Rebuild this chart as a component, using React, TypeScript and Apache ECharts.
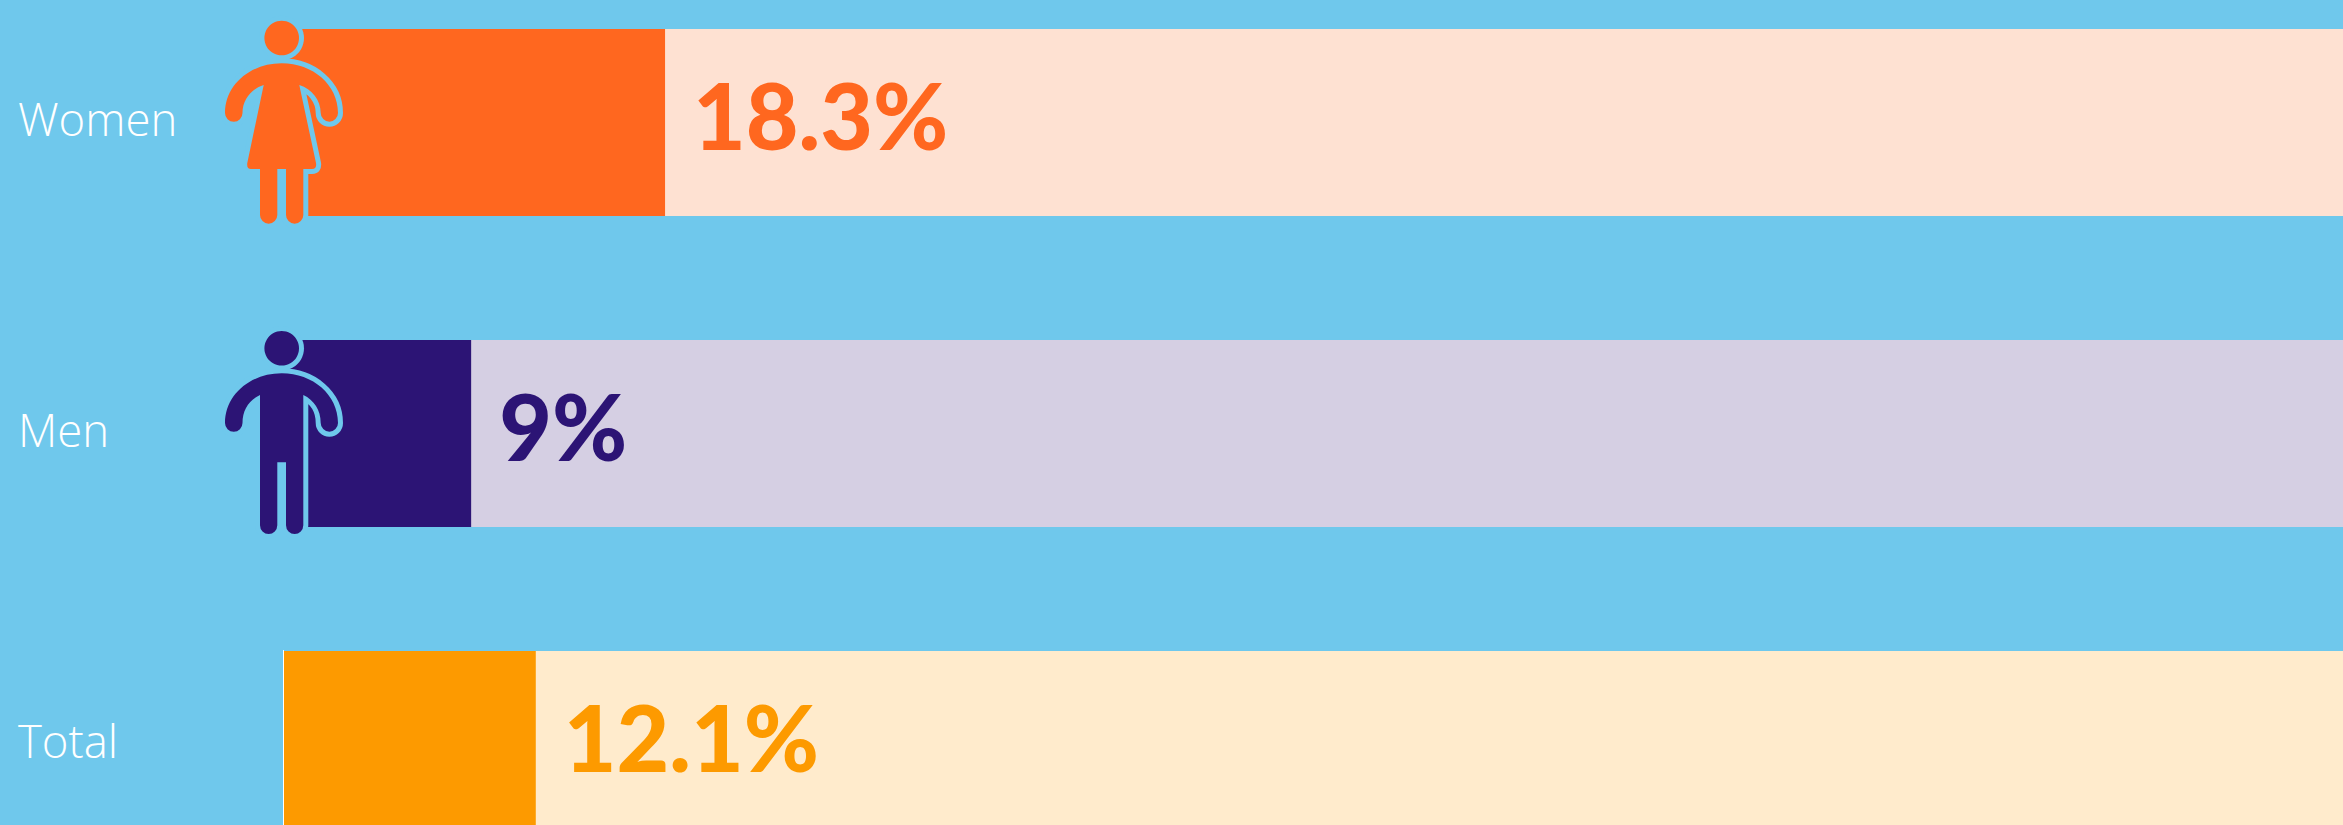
import React, { useEffect, useRef } from "react";
import * as echarts from "echarts";

const categories = ["Women", "Men", "Total"];
const values = [18.3, 9, 12.1];
const fullScale = [100, 100, 100];
const strongColors = ["#FF671F", "#2C1475", "#FD9A00"];
const paleColors = ["#FEE1D2", "#D5CFE3", "#FFEBCC"];
const SKY = "#6FC8EC";

const WOMAN_D =
  "M281.7 63.3C250 63.3 225 85 225 113A8.75 8.75 0 0 0 242.5 113C242.5 100 251 89 263.7 85L247.3 163Q246.5 169 251 169L260 169L260 215A8.65 8.65 0 0 0 277.3 215L277.3 169L286 169L286 215A8.65 8.65 0 0 0 303.3 215L303.3 169L312 169Q317 169 316 163L299.3 85C312 89 320.7 100 320.7 113A8.65 8.65 0 0 0 338 113C338 85 313 63.3 281.7 63.3Z";
const MAN_D =
  "M281.7 373.3C250 373.3 225 395 225 423A8.75 8.75 0 0 0 242.5 423C242.5 410 249 400 260 395L260 525.3A8.65 8.65 0 0 0 277.3 525.3L277.3 462.3L286 462.3L286 525.3A8.65 8.65 0 0 0 303.3 525.3L303.3 395C314 400 320.7 410 320.7 423A8.65 8.65 0 0 0 338 423C338 395 313 373.3 281.7 373.3Z";

echarts.graphic.registerShape("womanIcon", echarts.graphic.extendPath(WOMAN_D, {}) as any);
echarts.graphic.registerShape("manIcon", echarts.graphic.extendPath(MAN_D, {}) as any);

function icon(type: string, headY: number, color: string) {
  return [
    { type, z: 100, style: { fill: SKY, stroke: SKY, lineWidth: 10, lineJoin: "round" } },
    { type: "circle", z: 100, shape: { cx: 281.7, cy: headY, r: 22.3 }, style: { fill: SKY } },
    { type, z: 101, style: { fill: color } },
    { type: "circle", z: 101, shape: { cx: 281.7, cy: headY, r: 17.3 }, style: { fill: color } },
  ];
}

export default function App() {
  const ref = useRef<HTMLDivElement>(null);
  useEffect(() => {
    document.body.style.margin = "0";
    document.body.style.overflow = "hidden";
    const chart = echarts.init(ref.current!, null, { renderer: "svg" });
    chart.setOption({
      animation: false,
      backgroundColor: SKY,
      grid: { left: 283.5, top: -33, width: 2085, height: 933, outerBoundsMode: "none" },
      xAxis: { type: "value", min: 0, max: 100, show: false },
      yAxis: {
        type: "category",
        inverse: true,
        data: categories,
        axisLine: { show: false },
        axisTick: { show: false },
        axisLabel: {
          align: "left",
          margin: 265.5,
          formatter: "{a|{value}}",
          rich: {
            a: {
              color: "#FFFFFF",
              fontFamily: "Open Sans",
              fontWeight: 300,
              fontSize: 45.5,
              padding: [0, 0, 10, 0],
            },
          },
        },
      },
      series: [
        {
          type: "bar",
          barWidth: 187,
          barGap: "-100%",
          silent: true,
          data: fullScale.map((v, i) => ({ value: v, itemStyle: { color: paleColors[i] } })),
        },
        {
          type: "bar",
          barWidth: 187,
          barGap: "-100%",
          silent: true,
          label: {
            show: true,
            position: "right",
            distance: 28,
            offset: [0, -8],
            formatter: "{c}%",
            fontFamily: "Lato",
            fontWeight: 900,
            fontSize: 91,
          },
          data: values.map((v, i) => ({
            value: v,
            itemStyle: { color: strongColors[i] },
            label: { color: strongColors[i] },
          })),
        },
      ],
      graphic: [
        ...icon("womanIcon", 38, strongColors[0]),
        ...icon("manIcon", 348.3, strongColors[1]),
        { type: "rect", z: 100, shape: { x: 283, y: 650, width: 1, height: 175 }, style: { fill: "#FFFFFF" } },
      ],
    });
    return () => chart.dispose();
  }, []);
  return <div ref={ref} style={{ width: 2343, height: 825 }} />;
}
